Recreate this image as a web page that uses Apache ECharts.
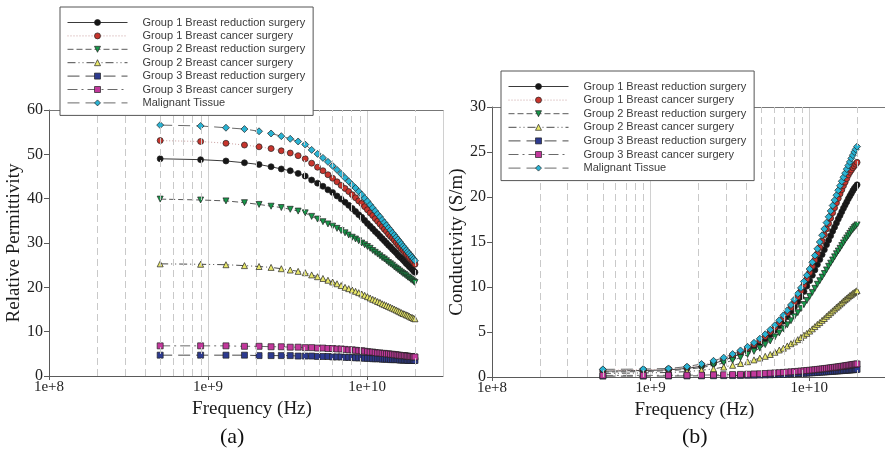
<!DOCTYPE html>
<html>
<head>
<meta charset="utf-8">
<title>Breast tissue dielectric properties</title>
<script src="https://cdn.jsdelivr.net/npm/echarts@6/dist/echarts.min.js"></script>
<style>
  html, body { margin: 0; padding: 0; background: #fff; }
  #chart { width: 885px; height: 455px; }
</style>
</head>
<body>
<div id="chart"></div>
<script>
// frequency points in GHz (0.5 .. 20 GHz)
const freqGHz = [0.5,0.898,1.296,1.694,2.092,2.49,2.888,3.286,3.684,4.082,
  4.48,4.878,5.276,5.673,6.071,6.469,6.867,7.265,7.663,8.061,
  8.459,8.857,9.255,9.653,10.051,10.449,10.847,11.245,11.643,12.041,
  12.439,12.837,13.235,13.633,14.031,14.429,14.827,15.224,15.622,16.02,
  16.418,16.816,17.214,17.612,18.01,18.408,18.806,19.204,19.602,20];

const seriesNames = [
  'Group 1 Breast reduction surgery',
  'Group 1 Breast cancer surgery',
  'Group 2 Breast reduction surgery',
  'Group 2 Breast cancer surgery',
  'Group 3 Breast reduction surgery',
  'Group 3 Breast cancer surgery',
  'Malignant Tissue'
];

// (a) relative permittivity
const permG1Reduction = [49.0,48.8,48.5,48.1,47.7,47.2,46.7,46.3,45.7,45.1,
  44.2,43.5,42.8,42.0,41.4,40.6,39.9,39.2,38.5,37.8,
  37.1,36.4,35.8,35.1,34.4,33.8,33.2,32.6,32.1,31.5,
  31.0,30.5,30.0,29.5,29.1,28.6,28.2,27.8,27.3,26.9,
  26.6,26.2,25.8,25.4,25.1,24.7,24.4,24.1,23.7,23.4];
const permG1Cancer = [53.1,52.9,52.5,52.1,51.7,51.3,50.8,50.3,49.7,49.0,
  48.0,47.1,46.3,45.4,44.6,43.8,43.0,42.3,41.6,40.9,
  40.2,39.5,38.9,38.2,37.5,36.8,36.2,35.5,34.9,34.3,
  33.7,33.1,32.6,32.0,31.5,31.1,30.6,30.1,29.6,29.2,
  28.7,28.3,27.9,27.5,27.1,26.7,26.3,26.0,25.6,25.2];
const permG2Reduction = [39.9,39.7,39.5,39.1,38.7,38.3,38.0,37.6,37.2,36.8,
  36.0,35.4,34.8,34.3,33.8,33.3,32.8,32.3,31.8,31.3,
  30.9,30.5,30.0,29.6,29.2,28.8,28.3,27.9,27.5,27.1,
  26.7,26.4,26.0,25.6,25.3,25.0,24.6,24.3,24.0,23.7,
  23.4,23.1,22.9,22.6,22.3,22.1,21.8,21.6,21.3,21.1];
const permG2Cancer = [25.3,25.2,25.1,24.9,24.7,24.5,24.2,23.9,23.6,23.3,
  22.8,22.4,22.0,21.6,21.2,20.8,20.4,20.0,19.7,19.4,
  19.1,18.8,18.5,18.2,17.9,17.6,17.3,17.1,16.8,16.6,
  16.3,16.1,15.9,15.7,15.5,15.3,15.1,14.9,14.7,14.5,
  14.3,14.1,14.0,13.8,13.7,13.5,13.3,13.2,13.0,12.9];
const permG3Reduction = [4.7,4.7,4.7,4.7,4.6,4.6,4.6,4.6,4.5,4.5,
  4.5,4.4,4.4,4.4,4.3,4.3,4.3,4.2,4.2,4.2,
  4.1,4.1,4.1,4.0,4.0,4.0,3.9,3.9,3.9,3.9,
  3.8,3.8,3.8,3.8,3.7,3.7,3.7,3.7,3.7,3.6,
  3.6,3.6,3.6,3.6,3.5,3.5,3.5,3.5,3.5,3.5];
const permG3Cancer = [6.8,6.8,6.8,6.7,6.7,6.6,6.6,6.5,6.5,6.4,
  6.4,6.3,6.3,6.2,6.2,6.1,6.1,6.0,5.9,5.9,
  5.8,5.7,5.7,5.6,5.5,5.4,5.4,5.3,5.2,5.2,
  5.1,5.1,5.0,5.0,4.9,4.9,4.8,4.8,4.7,4.7,
  4.6,4.6,4.6,4.5,4.5,4.4,4.4,4.4,4.3,4.3];
const permMalignant = [56.6,56.4,56.0,55.7,55.2,54.7,54.1,53.5,52.9,52.2,
  51.0,50.1,49.2,48.3,47.4,46.5,45.6,44.7,43.9,43.1,
  42.4,41.6,40.9,40.1,39.4,38.6,37.9,37.2,36.5,35.9,
  35.2,34.6,34.0,33.4,32.9,32.3,31.8,31.3,30.8,30.3,
  29.8,29.3,28.9,28.4,28.0,27.6,27.2,26.8,26.4,26.0];

// (b) conductivity, S/m
const condG1Reduction = [0.65,0.72,0.8,0.95,1.2,1.5,1.85,2.2,2.6,2.95,
  3.35,3.8,4.25,4.7,5.2,5.7,6.2,6.7,7.25,7.8,
  8.35,8.9,9.5,10.1,10.7,11.3,11.9,12.5,13.05,13.6,
  14.15,14.7,15.2,15.7,16.2,16.65,17.1,17.55,17.95,18.35,
  18.75,19.1,19.45,19.8,20.1,20.4,20.7,20.95,21.15,21.35];
const condG1Cancer = [0.75,0.8,0.88,1.05,1.35,1.65,2.0,2.4,2.8,3.2,
  3.6,4.05,4.5,5.0,5.5,6.0,6.55,7.1,7.7,8.3,
  8.9,9.55,10.2,10.9,11.6,12.3,13.0,13.7,14.4,15.1,
  15.8,16.45,17.05,17.65,18.25,18.8,19.35,19.85,20.35,20.8,
  21.25,21.65,22.05,22.45,22.75,23.0,23.25,23.45,23.65,23.85];
const condG2Reduction = [0.55,0.6,0.7,0.85,1.05,1.3,1.55,1.85,2.15,2.5,
  2.85,3.2,3.6,4.0,4.45,4.9,5.35,5.8,6.25,6.7,
  7.15,7.6,8.05,8.5,8.95,9.4,9.85,10.3,10.7,11.1,
  11.5,11.9,12.3,12.65,13.0,13.35,13.7,14.0,14.3,14.6,
  14.9,15.2,15.45,15.7,15.95,16.2,16.4,16.6,16.75,16.9];
const condG2Cancer = [0.4,0.45,0.5,0.6,0.75,0.9,1.1,1.3,1.5,1.7,
  1.9,2.1,2.3,2.5,2.75,3.0,3.2,3.45,3.7,3.9,
  4.15,4.4,4.65,4.85,5.1,5.35,5.6,5.85,6.05,6.3,
  6.5,6.75,6.95,7.15,7.35,7.55,7.75,7.9,8.1,8.25,
  8.45,8.6,8.75,8.9,9.05,9.15,9.3,9.4,9.5,9.6];
const condG3Reduction = [0.1,0.1,0.11,0.12,0.13,0.14,0.15,0.16,0.17,0.19,
  0.2,0.22,0.23,0.25,0.27,0.28,0.3,0.32,0.34,0.36,
  0.38,0.39,0.41,0.43,0.45,0.47,0.49,0.51,0.53,0.55,
  0.56,0.58,0.6,0.62,0.63,0.65,0.67,0.68,0.7,0.71,
  0.73,0.74,0.76,0.77,0.78,0.8,0.81,0.82,0.84,0.85];
const condG3Cancer = [0.18,0.18,0.19,0.2,0.21,0.23,0.25,0.27,0.29,0.31,
  0.34,0.36,0.39,0.42,0.45,0.48,0.51,0.54,0.57,0.6,
  0.63,0.66,0.69,0.72,0.75,0.78,0.81,0.84,0.87,0.9,
  0.93,0.96,0.99,1.02,1.05,1.08,1.1,1.13,1.16,1.19,
  1.21,1.24,1.27,1.3,1.32,1.35,1.38,1.4,1.43,1.45];
const condMalignant = [0.85,0.88,0.95,1.15,1.45,1.8,2.15,2.55,2.95,3.35,
  3.8,4.25,4.75,5.25,5.75,6.3,6.85,7.4,8.0,8.6,
  9.25,9.9,10.6,11.3,12.0,12.75,13.5,14.25,15.0,15.75,
  16.45,17.15,17.8,18.45,19.05,19.65,20.2,20.75,21.25,21.75,
  22.2,22.65,23.1,23.5,23.9,24.3,24.65,25.0,25.3,25.6];

// dashed minor grid lines (Hz)
const minorGridFreqs = [2e8,3e8,4e8,5e8,6e8,7e8,8e8,9e8,
  2e9,3e9,4e9,5e9,6e9,7e9,8e9,9e9,2e10];

const permSets = [permG1Reduction, permG1Cancer, permG2Reduction, permG2Cancer,
  permG3Reduction, permG3Cancer, permMalignant];
const condSets = [condG1Reduction, condG1Cancer, condG2Reduction, condG2Cancer,
  condG3Reduction, condG3Cancer, condMalignant];

const styles = [
  {symbol: 'circle',   rotate: 0,   color: '#161616', line: '#3a3a3a', dash: 'solid'},
  {symbol: 'circle',   rotate: 0,   color: '#c8352d', line: '#c9a0a0', dash: [1, 2]},
  {symbol: 'triangle', rotate: 180, color: '#17984a', line: '#5a5a5a', dash: [6, 3]},
  {symbol: 'triangle', rotate: 0,   color: '#e9e86a', line: '#4a4a4a', dash: [8, 3, 1, 3, 1, 3]},
  {symbol: 'rect',     rotate: 0,   color: '#2d3a8f', line: '#4a4a4a', dash: [12, 6]},
  {symbol: 'rect',     rotate: 0,   color: '#c2389c', line: '#6a6a6a', dash: [10, 4, 2, 4]},
  {symbol: 'diamond',  rotate: 0,   color: '#2ab3d3', line: '#6a6a6a', dash: [12, 6]}
];

const serif = 'Liberation Serif';
const axisColor = '#5a5a5a';

function makeSeries(values, i, xIdx, yIdx) {
  const s = styles[i];
  return {
    name: seriesNames[i],
    type: 'line',
    xAxisIndex: xIdx,
    yAxisIndex: yIdx,
    data: freqGHz.map((f, k) => [f * 1e9, values[k]]),
    symbol: s.symbol,
    symbolRotate: s.rotate,
    symbolSize: s.symbol === 'diamond' ? 7 : 6,
    showAllSymbol: true,
    lineStyle: {color: s.line, width: 1, type: s.dash},
    itemStyle: {color: s.color, borderColor: '#222', borderWidth: 0.7},
    emphasis: {disabled: true},
    animation: false,
    z: 3
  };
}

function gridLines(xIdx, yIdx) {
  return {
    type: 'line', xAxisIndex: xIdx, yAxisIndex: yIdx, data: [], silent: true,
    markLine: {
      silent: true, symbol: 'none', animation: false,
      label: {show: false},
      lineStyle: {type: [7, 4], color: '#c9c9c9', width: 1},
      data: minorGridFreqs.map(v => ({xAxis: v}))
    },
    z: 1
  };
}

function bottomAxis(gridIndex) {
  return {
    type: 'log', logBase: 10, gridIndex: gridIndex, min: 1e8, max: 3e10,
    name: 'Frequency (Hz)', nameLocation: 'middle', nameGap: 20,
    nameTextStyle: {fontFamily: serif, fontSize: 19, color: '#1a1a1a', padding: [0, 0, 0, 12]},
    axisLine: {lineStyle: {color: axisColor, width: 1}},
    axisTick: {show: true, length: 4, lineStyle: {color: axisColor}},
    axisLabel: {
      fontFamily: serif, fontSize: 15, color: '#222', margin: 4,
      showMaxLabel: false,
      formatter: v => '1e+' + Math.round(Math.log10(v))
    },
    splitLine: {show: true, lineStyle: {color: '#d0d0d0', width: 1}}
  };
}

function topAxis(gridIndex) {
  return {
    type: 'log', logBase: 10, gridIndex: gridIndex, min: 1e8, max: 3e10, position: 'top',
    axisLine: {lineStyle: {color: '#777', width: 1}},
    axisTick: {show: false}, axisLabel: {show: false}, splitLine: {show: false}
  };
}

function leftAxis(gridIndex, max, interval, name, gap) {
  return {
    type: 'value', gridIndex: gridIndex, min: 0, max: max, interval: interval,
    name: name, nameLocation: 'middle', nameGap: gap,
    nameTextStyle: {fontFamily: serif, fontSize: 19, color: '#1a1a1a'},
    axisLine: {show: true, lineStyle: {color: axisColor, width: 1}},
    axisTick: {show: true, length: 5, lineStyle: {color: axisColor}},
    axisLabel: {fontFamily: serif, fontSize: 16, color: '#222', margin: 6},
    splitLine: {show: false}
  };
}

function legendAt(left, top, gap) {
  return {
    orient: 'vertical', left: left, top: top, data: seriesNames,
    itemWidth: 60, itemHeight: 7.5, itemGap: gap,
    padding: [10, 8, 7, 7],
    borderColor: '#555', borderWidth: 1, backgroundColor: '#fff',
    selectedMode: false,
    lineStyle: {width: 1},
    itemStyle: {borderWidth: 0.7, borderColor: '#222'},
    textStyle: {fontFamily: 'Liberation Sans', fontSize: 11, lineHeight: 11,
      color: '#3a3a3a', padding: [0, 0, 0, 10]},
    z: 10
  };
}

const series = [gridLines(0, 0), gridLines(2, 1)];
permSets.forEach((vals, i) => series.push(makeSeries(vals, i, 0, 0)));
condSets.forEach((vals, i) => series.push(makeSeries(vals, i, 2, 1)));

const option = {
  animation: false,
  backgroundColor: '#fff',
  title: [
    {text: '(a)', left: 215, top: 421,
      textStyle: {fontFamily: serif, fontSize: 22, fontWeight: 'normal', color: '#111'}},
    {text: '(b)', left: 677, top: 421,
      textStyle: {fontFamily: serif, fontSize: 22, fontWeight: 'normal', color: '#111'}}
  ],
  legend: [legendAt(60, 7, 2.4), legendAt(501, 71, 2.6)],
  grid: [
    {left: 49, top: 110, width: 394, height: 266},
    {left: 492, top: 107, width: 396, height: 270}
  ],
  xAxis: [bottomAxis(0), topAxis(0), bottomAxis(1), topAxis(1)],
  yAxis: [
    leftAxis(0, 60, 10, 'Relative Permittivity', 24),
    leftAxis(1, 30, 5, 'Conductivity (S/m)', 22)
  ],
  series: series
};

const chart = echarts.init(document.getElementById('chart'), null, {renderer: 'canvas'});
chart.setOption(option);
</script>
</body>
</html>
